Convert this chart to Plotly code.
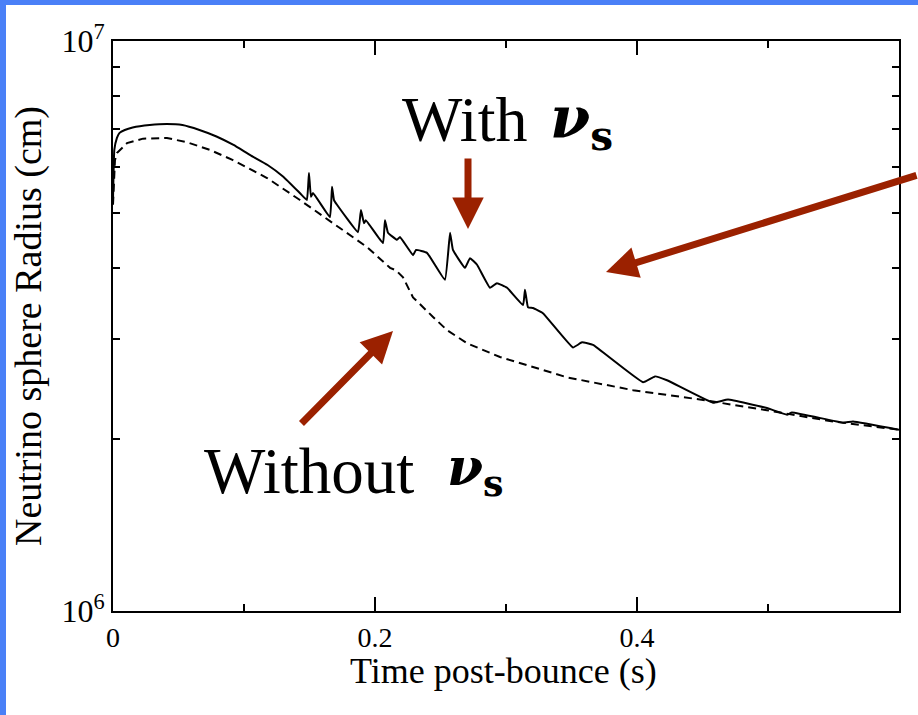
import plotly.graph_objects as go

# Neutrino-sphere radius vs. time after core bounce
t_with = [0.000, 0.001, 0.003, 0.005, 0.009, 0.015, 0.028, 0.041, 0.053, 0.066,
          0.079, 0.092, 0.105, 0.118, 0.130, 0.143, 0.148, 0.1496, 0.1511, 0.1527,
          0.1656, 0.1672, 0.1687, 0.171, 0.187, 0.1893, 0.1916, 0.193, 0.2061, 0.2076,
          0.2099, 0.2168, 0.2191, 0.229, 0.2313, 0.2397, 0.2534, 0.2573, 0.2595, 0.2687,
          0.2725, 0.2779, 0.2878, 0.2931, 0.3008, 0.313, 0.3145, 0.3168, 0.3206, 0.3282,
          0.3511, 0.358, 0.3664, 0.4046, 0.4137, 0.4229, 0.458, 0.4695, 0.4992, 0.5145,
          0.5183, 0.5573, 0.5649, 0.600]
r_with = [5.26e6, 6.44e6, 6.76e6, 6.90e6, 6.98e6, 7.05e6, 7.12e6, 7.15e6, 7.12e6, 6.98e6,
          6.80e6, 6.57e6, 6.30e6, 6.06e6, 5.78e6, 5.40e6, 5.26e6, 5.87e6, 5.33e6, 5.41e6,
          4.91e6, 5.55e6, 5.26e6, 5.16e6, 4.62e6, 5.05e6, 4.79e6, 4.85e6, 4.42e6, 4.85e6,
          4.61e6, 4.48e6, 4.53e6, 4.21e6, 4.30e6, 4.25e6, 3.81e6, 4.61e6, 4.30e6, 4.00e6,
          4.16e6, 4.05e6, 3.69e6, 3.76e6, 3.69e6, 3.44e6, 3.66e6, 3.41e6, 3.40e6, 3.33e6,
          2.90e6, 2.96e6, 2.93e6, 2.52e6, 2.58e6, 2.54e6, 2.32e6, 2.35e6, 2.27e6, 2.21e6,
          2.23e6, 2.14e6, 2.15e6, 2.08e6]

t_without = [0.000, 0.0015, 0.003, 0.0107, 0.0229, 0.0412, 0.0567, 0.074, 0.0916, 0.1176,
             0.1427, 0.1679, 0.1939, 0.2115, 0.216, 0.2214, 0.229, 0.2443, 0.255, 0.2702,
             0.2954, 0.3206, 0.3466, 0.397, 0.448, 0.4992, 0.5496, 0.600]
r_without = [5.16e6, 6.18e6, 6.36e6, 6.62e6, 6.74e6, 6.76e6, 6.64e6, 6.44e6, 6.18e6, 5.75e6,
             5.26e6, 4.79e6, 4.35e6, 4.00e6, 3.96e6, 3.85e6, 3.55e6, 3.28e6, 3.11e6, 2.95e6,
             2.79e6, 2.68e6, 2.57e6, 2.44e6, 2.35e6, 2.25e6, 2.15e6, 2.08e6]

x_tickvals = [0, 0.2, 0.4]
x_ticktext = ["0", "0.2", "0.4"]
x_minor = [0.1, 0.3, 0.5]
y_tickvals = [1e6, 1e7]
y_ticktext = ["10<sup>6</sup>", "10<sup>7</sup>"]
y_minor = [2e6, 3e6, 4e6, 5e6, 6e6, 7e6, 8e6, 9e6]

W, H = 918, 715
ML, MR, MT, MB = 113, 19, 41, 104
PW, PH = W - ML - MR, H - MT - MB


def px(x):
    return (x - ML) / PW


def py(y):
    return (H - MB - y) / PH


SERIF = "Liberation Serif"
GREEK = "DejaVu Serif"
RED = "#9b2100"
BLUE = "#4a80f7"

fig = go.Figure()
fig.add_trace(go.Scatter(x=t_without, y=r_without, mode="lines",
                         line=dict(color="black", width=2, dash="8px,5px"),
                         showlegend=False, hoverinfo="skip"))
fig.add_trace(go.Scatter(x=t_with, y=r_with, mode="lines",
                         line=dict(color="black", width=2, shape="spline", smoothing=0.3),
                         showlegend=False, hoverinfo="skip"))

fig.update_layout(
    width=W, height=H,
    margin=dict(l=ML, r=MR, t=MT, b=MB, pad=0),
    paper_bgcolor="white", plot_bgcolor="white",
    font=dict(family=SERIF, color="black"),
    xaxis=dict(
        range=[0, 0.6], showgrid=False, zeroline=False,
        showline=True, linecolor="black", linewidth=2, mirror="ticks",
        ticks="inside", tickvals=x_tickvals, ticktext=x_ticktext,
        ticklen=14, tickwidth=2, tickcolor="black",
        tickfont=dict(size=28, family=SERIF),
        minor=dict(tickvals=x_minor, ticks="inside", ticklen=7, tickwidth=2,
                   tickcolor="black", showgrid=False),
    ),
    yaxis=dict(
        type="log", range=[6, 7], showgrid=False, zeroline=False,
        showline=True, linecolor="black", linewidth=2, mirror="ticks",
        ticks="inside", tickvals=y_tickvals, ticktext=y_ticktext,
        ticklen=7, tickwidth=2, tickcolor="black",
        tickfont=dict(size=32, family=SERIF),
        minor=dict(tickvals=y_minor, ticks="inside", ticklen=7, tickwidth=2,
                   tickcolor="black", showgrid=False),
        title=dict(text="Neutrino sphere Radius (cm)", font=dict(size=38, family=SERIF),
                   standoff=8),
    ),
)

# x-axis title
fig.add_annotation(xref="paper", yref="paper", x=px(503), y=py(671), xanchor="center",
                   yanchor="middle", showarrow=False, text="Time post-bounce (s)",
                   font=dict(size=36, family=SERIF, color="black"))

# slide frame strips
fig.add_shape(type="rect", xref="paper", yref="paper", x0=px(0), x1=px(6),
              y0=py(H), y1=py(0), fillcolor=BLUE, line_width=0, layer="above")
fig.add_shape(type="rect", xref="paper", yref="paper", x0=px(0), x1=px(W),
              y0=py(5), y1=py(0), fillcolor=BLUE, line_width=0, layer="above")

# labels
fig.add_annotation(xref="paper", yref="paper", x=px(400), y=py(120), xanchor="left",
                   yanchor="middle", showarrow=False, text="With",
                   font=dict(size=64, family=SERIF, color="black"))
fig.add_annotation(xref="paper", yref="paper", x=px(548), y=py(122), xanchor="left",
                   yanchor="middle", showarrow=False,
                   text="<b><i>ν</i></b><sub><b>s</b></sub>",
                   font=dict(size=58, family=GREEK, color="black"))
fig.add_annotation(xref="paper", yref="paper", x=px(202), y=py(471), xanchor="left",
                   yanchor="middle", showarrow=False, text="Without",
                   font=dict(size=65, family=SERIF, color="black"))
fig.add_annotation(xref="paper", yref="paper", x=px(445), y=py(470), xanchor="left",
                   yanchor="middle", showarrow=False,
                   text="<b><i>ν</i></b><sub><b>s</b></sub>",
                   font=dict(size=52, family=GREEK, color="black"))

# pointer arrows
arrows = [((468, 229), (0, -72)), ((606, 272), (330, -97)), ((393, 331), (-93, 94))]
for (tx, ty), (dx, dy) in arrows:
    fig.add_annotation(xref="paper", yref="paper", x=px(tx), y=py(ty), ax=dx, ay=dy,
                       text="", showarrow=True, arrowhead=2, arrowsize=0.9,
                       arrowwidth=7, arrowcolor=RED, standoff=0)

fig.write_html("out.html", config={"displayModeBar": False})
